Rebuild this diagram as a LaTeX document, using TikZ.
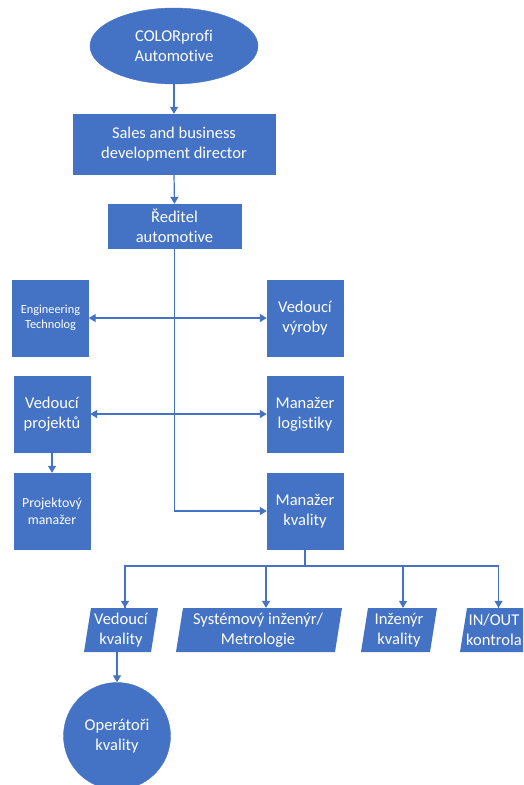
\documentclass[tikz,border=0pt]{standalone}
\usepackage{fontspec}
\setmainfont{Carlito}[Ligatures=NoCommon]
\usetikzlibrary{arrows.meta,shapes.geometric,calc}
\definecolor{bl}{HTML}{4472C4}
\begin{document}
\begin{tikzpicture}[x=1pt,y=-1pt,
  box/.style={fill=bl,draw=bl,text=white,inner sep=0pt,align=center,font=\fontsize{16.5}{20}\selectfont},
  sq/.style={box,minimum width=76pt,minimum height=76pt},
  ptext/.style={text=white,inner sep=0pt,align=center,minimum height=44pt,font=\fontsize{16.5}{20}\selectfont},
  con/.style={draw=bl,line width=1.2pt},
  arr/.style={con,-{Triangle[width=8pt,length=7pt]}},
  arr2/.style={con,{Triangle[width=8pt,length=7pt]}-{Triangle[width=8pt,length=7pt]}}]
\useasboundingbox (0,0) rectangle (523,785);
\clip (0,0) rectangle (523,785);
% top chain
\node[box,ellipse,minimum width=168pt,minimum height=76pt] (cp) at (174,46) {COLORprofi\\Automotive};
\node[box,minimum width=202pt,minimum height=60pt] (sb) at (174,144) {Sales and business\\development director};
\node[box,minimum width=133pt,minimum height=44pt] (rd) at (174.5,226) {Ředitel\\automotive};
% side boxes
\node[sq,font=\fontsize{12.3}{15}\selectfont] (et) at (50.5,318) {Engineering\\Technolog};
\node[sq] (vv) at (305,318) {Vedoucí\\výroby};
\node[sq] (vp) at (52,414) {Vedoucí\\projektů};
\node[sq] (ml) at (305,414) {Manažer\\logistiky};
\node[sq,font=\fontsize{13.8}{17}\selectfont] (pm) at (52,511) {Projektový\\manažer};
\node[sq] (mk) at (305,511) {Manažer\\kvality};
% parallelograms
\fill[bl] (91,608) -- (158,608) -- (151,652) -- (84,652) -- cycle;
\fill[bl] (183,608) -- (342,608) -- (335,652) -- (176,652) -- cycle;
\fill[bl] (368,608) -- (437,608) -- (430,652) -- (361,652) -- cycle;
\fill[bl] (467,608) -- (545,608) -- (538,652) -- (460,652) -- cycle;
\node[ptext] (vk) at (121,630) {Vedoucí\\kvality};
\node[ptext] (si) at (258,630) {Systémový inženýr/\\Metrologie};
\node[ptext] (ik) at (399,630) {Inženýr\\kvality};
\node[ptext] (io) at (494,630) {IN/OUT\\kontrola};
% circle
\node[box,circle,minimum size=107pt] (op) at (117,736) {Operátoři\\kvality};
% connectors
\draw[arr] (cp.south) -- (sb.north);
\draw[arr] (sb.south) -- (rd.north);
\draw[arr] (rd.south) |- (mk.west);
\draw[arr2] (et.east) -- (vv.west);
\draw[arr2] (vp.east) -- (ml.west);
\draw[arr] (vp.south) -- (pm.north);
\coordinate (bus) at (305,566);
\draw[con] (mk.south) -- (bus);
\draw[con] ($(vk.north)+(4,0)$) |- (bus) -| ($(io.north)+(4.5,0)$);
\draw[arr] ($(vk.north)+(4,-42)$) -- ($(vk.north)+(4,0)$);
\draw[arr] ($(si.north)+(8,-42)$) -- ($(si.north)+(8,0)$);
\draw[arr] ($(ik.north)+(4,-42)$) -- ($(ik.north)+(4,0)$);
\draw[arr] ($(io.north)+(4.5,-42)$) -- ($(io.north)+(4.5,0)$);
\draw[arr] (op.north |- vk.south) -- (op.north);
\end{tikzpicture}
\end{document}
